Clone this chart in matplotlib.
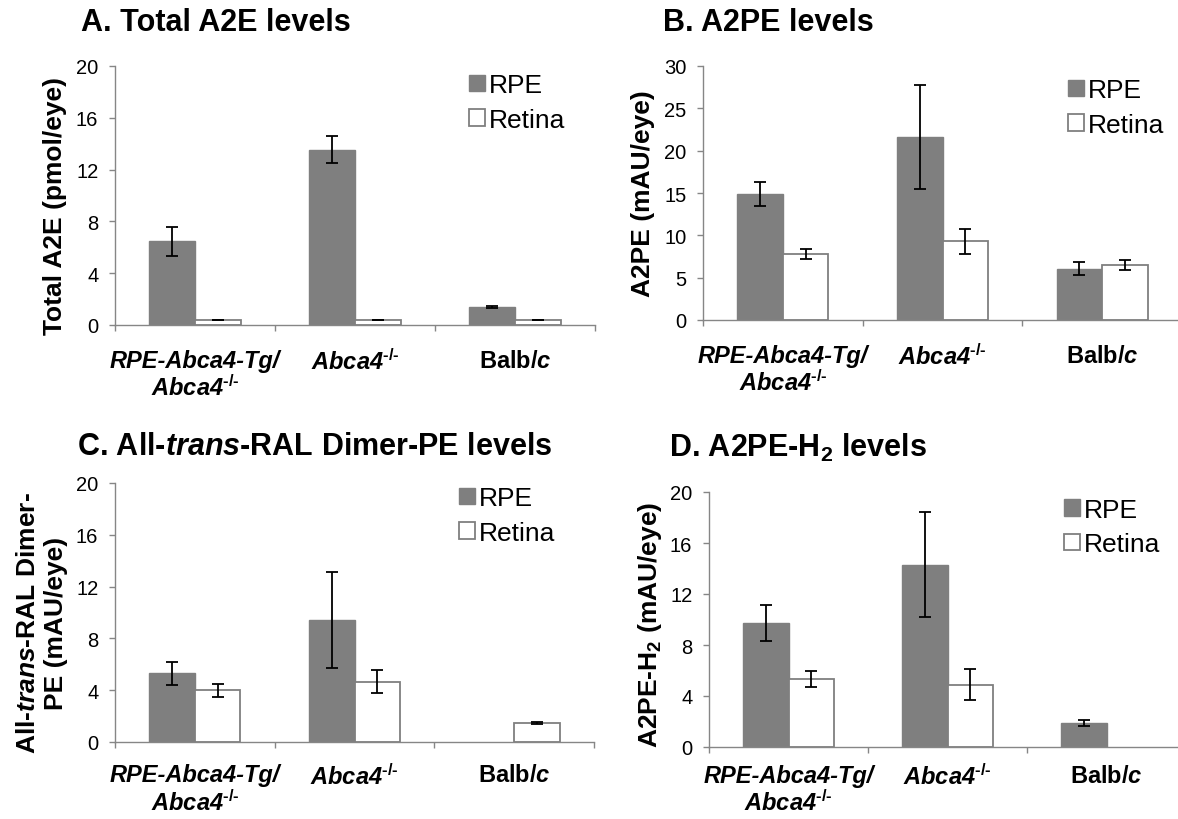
import numpy as np
import matplotlib
matplotlib.use("Agg")
import matplotlib.pyplot as plt

plt.rcParams['font.family'] = ['Liberation Sans', 'DejaVu Sans']
plt.rcParams['mathtext.fontset'] = 'custom'
plt.rcParams['mathtext.rm'] = 'Liberation Sans:bold'
plt.rcParams['mathtext.bf'] = 'Liberation Sans:bold'
plt.rcParams['mathtext.it'] = 'Liberation Sans:bold:italic'
plt.rcParams['mathtext.default'] = 'it'

# ---------------- data ----------------
SUP = "$^{\u2010/\u2010}$"
categories = ["RPE-Abca4-Tg/\nAbca4" + SUP,
              "Abca4" + SUP,
              r"Balb/$\mathit{c}$"]
series_names = ["RPE", "Retina"]

a2e_rpe = [6.45, 13.55, 1.42]
a2e_rpe_err = [1.15, 1.05, 0.08]
a2e_ret = [0.38, 0.38, 0.38]
a2e_ret_err = [0.03, 0.03, 0.03]

a2pe_rpe = [14.85, 21.6, 6.05]
a2pe_rpe_err = [1.4, 6.1, 0.75]
a2pe_ret = [7.8, 9.3, 6.5]
a2pe_ret_err = [0.55, 1.5, 0.6]

dimer_rpe = [5.3, 9.4, 0.0]
dimer_rpe_err = [0.9, 3.7, 0.0]
dimer_ret = [4.0, 4.65, 1.5]
dimer_ret_err = [0.5, 0.9, 0.08]

h2_rpe = [9.7, 14.3, 1.9]
h2_rpe_err = [1.4, 4.1, 0.25]
h2_ret = [5.35, 4.9, 0.0]
h2_ret_err = [0.65, 1.25, 0.0]

yticks_a = [0, 4, 8, 12, 16, 20]
yticks_b = [0, 5, 10, 15, 20, 25, 30]

titles = ["A. Total A2E levels", "B. A2PE levels",
          r"C. All-$\mathit{trans}$-RAL Dimer-PE levels",
          r"D. A2PE-H$\mathrm{_2}$ levels"]
ylabels = ["Total A2E (pmol/eye)", "A2PE (mAU/eye)",
           "All-$\\mathit{trans}$-RAL Dimer-\nPE (mAU/eye)",
           r"A2PE-H$\mathrm{_2}$ (mAU/eye)"]

# ---------------- layout ----------------
W, H = 1178, 820
fig = plt.figure(figsize=(W / 100, H / 100), dpi=100)


def fx(px):
    return px / W


def fy(py):
    return 1 - py / H


def make_axes(l, r, t, b):
    return fig.add_axes([fx(l), fy(b), fx(r) - fx(l), (b - t) / H])


GRAY = "#7f7f7f"
SPINE = "#868686"

panels = [
    dict(box=(115, 595, 67, 326), rpe=a2e_rpe, rpe_err=a2e_rpe_err, ret=a2e_ret, ret_err=a2e_ret_err,
         yt=yticks_a, title_xy=(81, 23), ylab_xy=(55, 206), leg_xy=(469, 103.5), xpad=17),
    dict(box=(703, 1182, 67, 321), rpe=a2pe_rpe, rpe_err=a2pe_rpe_err, ret=a2pe_ret, ret_err=a2pe_ret_err,
         yt=yticks_b, title_xy=(663, 23), ylab_xy=(643, 194), leg_xy=(1068, 108.5), xpad=17),
    dict(box=(115, 594, 484, 743), rpe=dimer_rpe, rpe_err=dimer_rpe_err, ret=dimer_ret, ret_err=dimer_ret_err,
         yt=yticks_a, title_xy=(77, 447), ylab_xy=(42, 623), leg_xy=(459, 516.5), xpad=15),
    dict(box=(709, 1186, 493, 748), rpe=h2_rpe, rpe_err=h2_rpe_err, ret=h2_ret, ret_err=h2_ret_err,
         yt=yticks_a, title_xy=(669, 448), ylab_xy=(650, 625), leg_xy=(1064, 528), xpad=12),
]

bw = 1 / 3.5
x = np.arange(len(categories))

for i, p in enumerate(panels):
    ax = make_axes(*p["box"])
    rpe = np.array(p["rpe"])
    ret = np.array(p["ret"])
    rpe_err = np.array(p["rpe_err"])
    ret_err = np.array(p["ret_err"])
    b1 = ax.bar(x - bw / 2, rpe, bw, color=GRAY, edgecolor=GRAY, linewidth=1.0, label=series_names[0], zorder=2)
    b2 = ax.bar(x + bw / 2, ret, bw, color="white", edgecolor=GRAY, linewidth=1.3, label=series_names[1], zorder=2)
    for patch in list(b1.patches) + list(b2.patches):
        if patch.get_height() == 0:
            patch.set_visible(False)
    m1 = rpe_err > 0
    m2 = ret_err > 0
    ax.errorbar((x - bw / 2)[m1], rpe[m1], yerr=rpe_err[m1], fmt='none', ecolor='black',
                elinewidth=1.3, capsize=4, capthick=1.3, zorder=3)
    ax.errorbar((x + bw / 2)[m2], ret[m2], yerr=ret_err[m2], fmt='none', ecolor='black',
                elinewidth=1.3, capsize=4, capthick=1.3, zorder=3)

    ax.set_xlim(-0.5, 2.5)
    ax.set_ylim(p["yt"][0], p["yt"][-1])
    ax.set_yticks(p["yt"])
    ax.set_yticklabels([str(v) for v in p["yt"]], fontsize=14.5)
    ax.set_xticks(x)
    ax.set_xticklabels(categories, fontsize=17, fontweight='bold', linespacing=1.15)
    for j, lab in enumerate(ax.get_xticklabels()):
        if j < 2:
            lab.set_fontstyle('italic')
    ax.set_xticks([-0.5, 0.5, 1.5, 2.5], minor=True)
    ax.tick_params(axis='x', which='major', length=0, pad=p["xpad"])
    ax.tick_params(axis='x', which='minor', length=4.3, direction='out', color=SPINE, width=1.0)
    ax.tick_params(axis='y', length=4, direction='out', color=SPINE, width=1.0, pad=8)
    for s in ['top', 'right']:
        ax.spines[s].set_visible(False)
    for s in ['left', 'bottom']:
        ax.spines[s].set_color(SPINE)
        ax.spines[s].set_linewidth(1.0)

    fig.text(fx(p["title_xy"][0]), fy(p["title_xy"][1]), titles[i], fontsize=22,
             fontweight='bold', ha='left', va='center')
    fig.text(fx(p["ylab_xy"][0]), fy(p["ylab_xy"][1]), ylabels[i], fontsize=19,
             fontweight='bold', rotation=90, ha='center', va='center', multialignment='center')

    ax.legend(handles=[b1, b2], labels=series_names, loc='center left',
              bbox_to_anchor=(fx(p["leg_xy"][0]), fy(p["leg_xy"][1])),
              bbox_transform=fig.transFigure, frameon=False, fontsize=19,
              handlelength=0.6, handleheight=0.6, handletextpad=0.15,
              labelspacing=0.4, borderpad=0, borderaxespad=0)

fig.savefig("out.png", dpi=100)
